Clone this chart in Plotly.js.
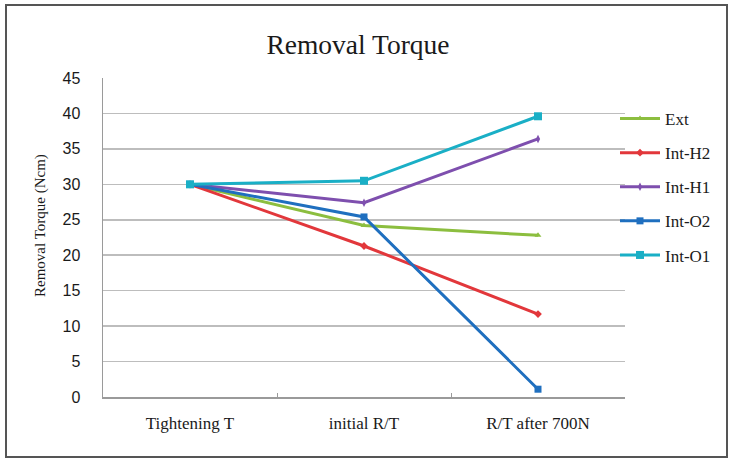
<!DOCTYPE html>
<html>
<head>
<meta charset="utf-8">
<script src="https://cdn.plot.ly/plotly-3.0.1.min.js"></script>
<style>html,body{margin:0;padding:0;background:#fff;}#chart{width:730px;height:465px;}</style>
</head>
<body>
<div id="chart"></div>
<script>
const categories = ["Tightening T", "initial R/T", "R/T after 700N"];
const seriesNames = ["Ext", "Int-H2", "Int-H1", "Int-O2", "Int-O1"];
const extValues = [30, 24.2, 22.8];
const intH2Values = [30, 21.3, 11.7];
const intH1Values = [30, 27.4, 36.4];
const intO2Values = [30, 25.4, 1.1];
const intO1Values = [30, 30.5, 39.6];
const yTicks = [0, 5, 10, 15, 20, 25, 30, 35, 40, 45];

const allValues = [extValues, intH2Values, intH1Values, intO2Values, intO1Values];
const colors = ["#8CBE3F", "#E2373B", "#7E4FAE", "#1F6FBF", "#1AAFC6"];
const symbols = ["triangle-up", "diamond", "diamond-tall", "square", "square"];
const sizes = [6, 6, 6, 7, 8];

const serif = "Liberation Serif, Times New Roman, serif";

const traces = seriesNames.map((name, i) => ({
  type: "scatter",
  mode: "lines+markers",
  name: name,
  x: categories,
  y: allValues[i],
  legendgroup: name,
  line: {color: colors[i], width: 3},
  marker: {symbol: symbols[i], size: sizes[i], color: colors[i]}
}));

// plot area in pixels: x 103..625, y 78..397
const L = 103, R = 625, T = 78, B = 397;
const pw = R - L, ph = B - T;
const px = v => (v - L) / pw;
const py = v => (B - v) / ph;

const layout = {
  width: 730, height: 465,
  margin: {l: L, r: 730 - R, t: T, b: 465 - B, pad: 0},
  paper_bgcolor: "#ffffff",
  plot_bgcolor: "#ffffff",
  title: {text: "Removal Torque", font: {family: serif, size: 27.5, color: "#1a1a1a"}, x: 358 / 730, xanchor: "center", y: 1 - 44 / 465, yanchor: "middle"},
  xaxis: {
    type: "category",
    range: [-0.5, 2.5],
    showgrid: false,
    showline: true, linecolor: "#9a9a9a", linewidth: 1.5,
    ticks: "inside", tickson: "boundaries", ticklen: 4, tickcolor: "#9a9a9a",
    tickfont: {family: serif, size: 17, color: "#1a1a1a"},
    ticklabelstandoff: 10,
    zeroline: false, fixedrange: true
  },
  yaxis: {
    range: [0, 45],
    tickvals: yTicks,
    showgrid: true, gridcolor: "#bdbdbd", gridwidth: 1.5,
    showline: true, linecolor: "#9a9a9a", linewidth: 1.5,
    ticks: "", zeroline: false,
    tickfont: {family: "Liberation Sans, Arial, sans-serif", size: 16, color: "#1a1a1a"},
    ticklabelstandoff: 18,
    fixedrange: true
  },
  annotations: [{
    text: "Removal Torque (Ncm)", textangle: -90,
    xref: "paper", yref: "paper", x: px(40), y: py(226),
    xanchor: "center", yanchor: "middle", showarrow: false,
    font: {family: serif, size: 15, color: "#1a1a1a"}
  }],
  legend: {
    x: px(615), xanchor: "left",
    y: py(101), yanchor: "top",
    bgcolor: "rgba(0,0,0,0)",
    font: {family: serif, size: 17, color: "#1a1a1a"},
    tracegroupgap: 9,
    itemwidth: 40
  },
  showlegend: true,
  shapes: [{
    type: "rect", xref: "paper", yref: "paper",
    x0: px(6), x1: px(727), y0: py(457), y1: py(5),
    line: {color: "#555555", width: 2}, fillcolor: "rgba(0,0,0,0)", layer: "below"
  }]
};

Plotly.newPlot("chart", traces, layout, {displayModeBar: false, staticPlot: true});
</script>
</body>
</html>
